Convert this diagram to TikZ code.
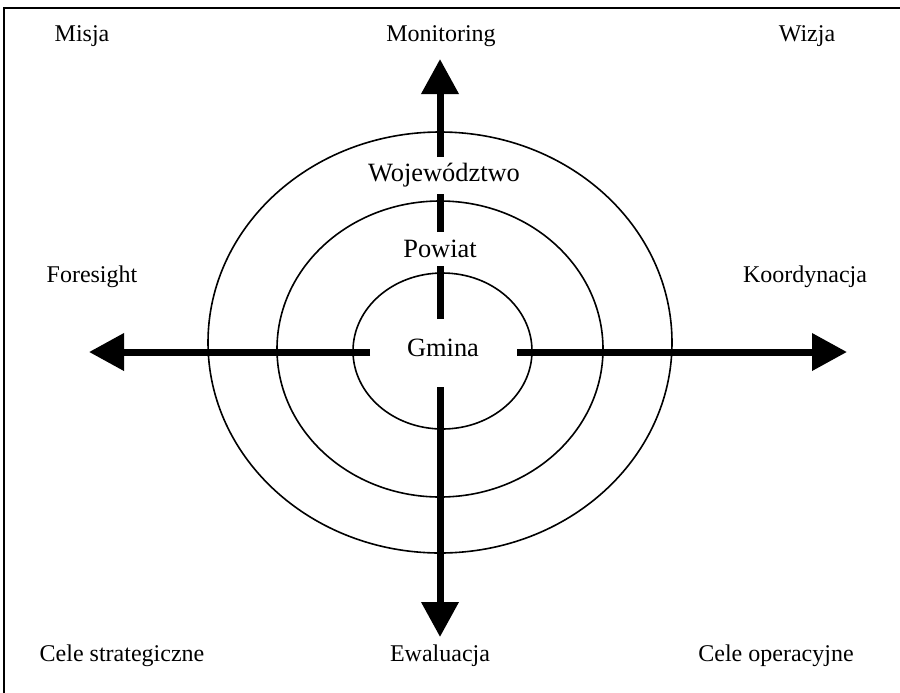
\documentclass[tikz,border=0pt]{standalone}
\usepackage{fontspec}
\setmainfont{Liberation Serif}
\usetikzlibrary{arrows.meta}
\tikzset{
  lbl/.style={anchor=base,font=\fontsize{12}{14}\selectfont,inner sep=0pt},
  lvl/.style={lbl,font=\fontsize{13.2}{15}\selectfont},
  ring/.style={line width=0.8pt},
  bar/.style={line width=3.5pt},
  arr/.style={bar,-{Triangle[length=17.5pt,width=18pt]}}
}
\begin{document}
\begin{tikzpicture}[x=0.5pt,y=-0.5pt]
        \useasboundingbox (0,0) rectangle (900,692);
        \draw[line width=1pt] (4,8) rectangle (920,710);
        % rings
        \draw[ring] (440,342.5) ellipse (232 and 210.5);
        \draw[ring] (440,349) ellipse (163 and 148);
        \draw[ring] (442.5,351) ellipse (89.5 and 78);
        % labels
        \node[lbl] (misja) at (82,41) {Misja};
        \node[lbl] (monit) at (441,41) {Monitoring};
        \node[lbl] (wizja) at (807,41) {Wizja};
        \node[lbl] (fore) at (92,282) {Foresight};
        \node[lbl] (koord) at (805,282) {Koordynacja};
        \node[lbl] (cstrat) at (122,661) {Cele strategiczne};
        \node[lbl] (ewal) at (440,661) {Ewaluacja};
        \node[lbl] (coper) at (776,661) {Cele operacyjne};
        \node[lvl] (woj) at (444,181) {Województwo};
        \node[lvl] (pow) at (440,257) {Powiat};
        \node[lvl] (gmina) at (443,356) {Gmina};
        % arrow ends
        \coordinate (n0) at (440,319); \coordinate (n1) at (440,266);
        \coordinate (n2) at (440,232); \coordinate (n3) at (440,194);
        \coordinate (n4) at (440,157); \coordinate (ntip) at (440,59);
        \coordinate (s0) at (440,387); \coordinate (stip) at (440,637);
        \coordinate (w0) at (370,352); \coordinate (wtip) at (89,352);
        \coordinate (e0) at (517,352); \coordinate (etip) at (847,352);
        % arrows
        \draw[bar] (n0) -- (n1);
        \draw[bar] (n2) -- (n3);
        \draw[arr] (n4) -- (ntip);
        \draw[arr] (s0) -- (stip);
        \draw[arr] (w0) -- (wtip);
        \draw[arr] (e0) -- (etip);
      \end{tikzpicture}
\end{document}
